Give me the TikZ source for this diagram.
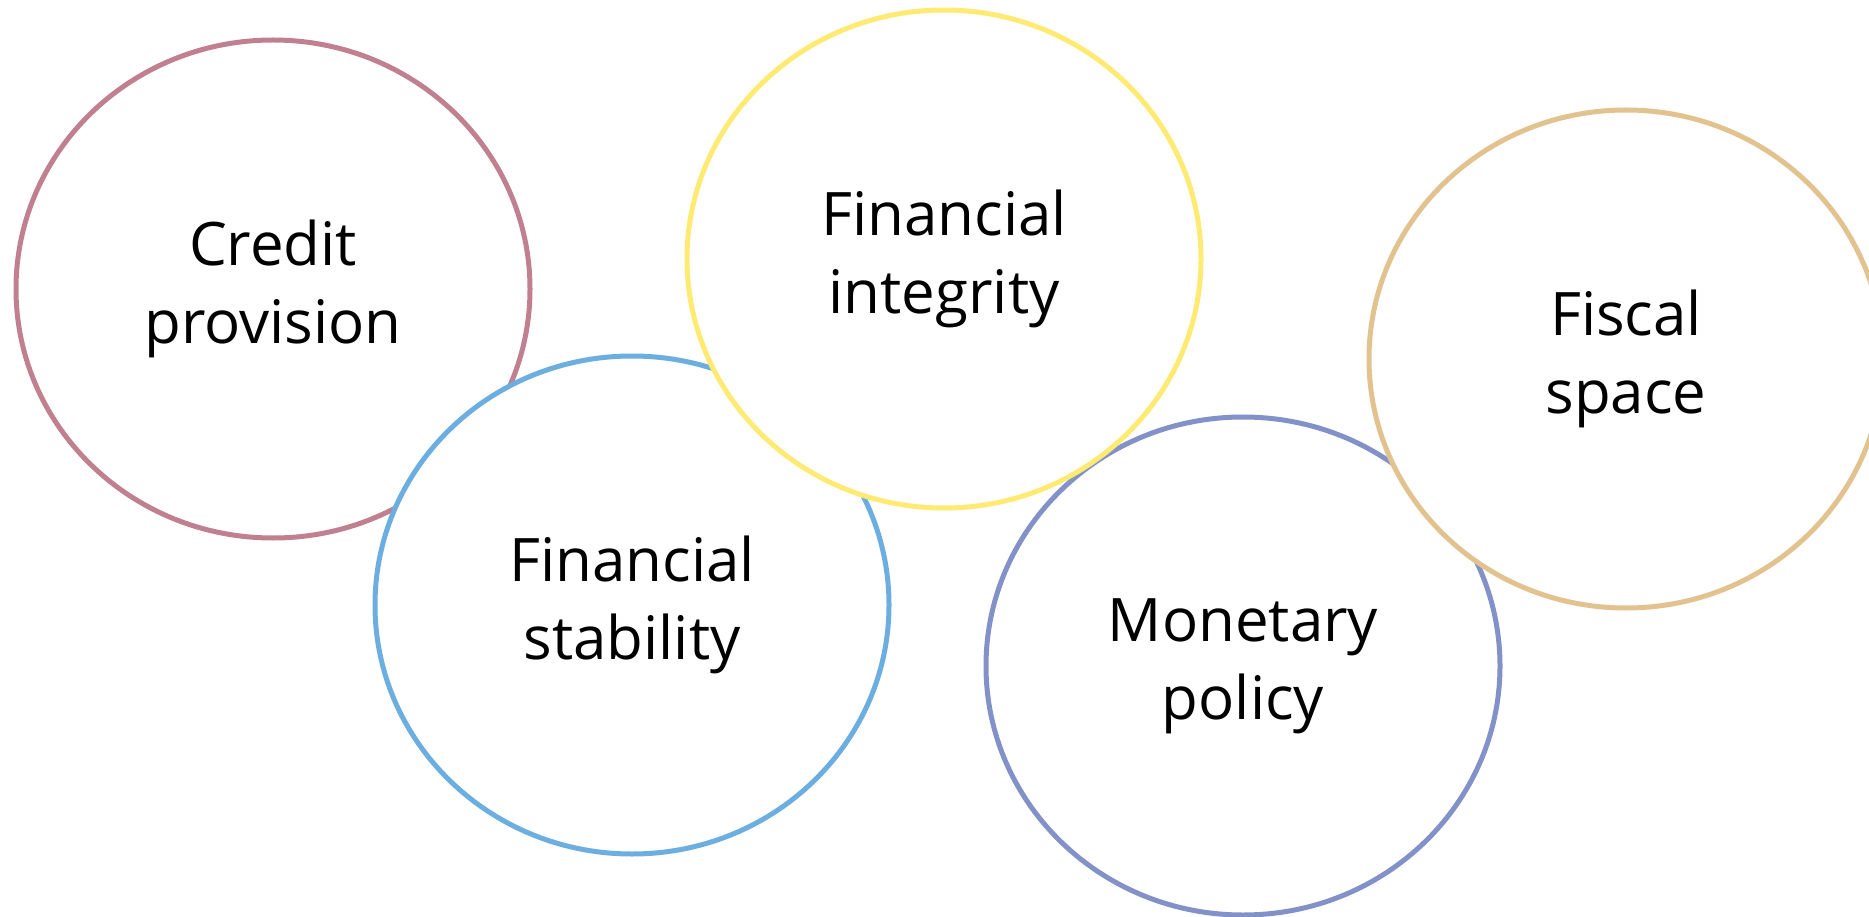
\documentclass[tikz,border=0pt]{standalone}
\usepackage{fontspec}
\setmainfont{Open Sans}
\usetikzlibrary{shapes.geometric}
\definecolor{cpink}{RGB}{193,128,144}
\definecolor{cblue}{RGB}{108,174,224}
\definecolor{cyellow}{RGB}{255,234,115}
\definecolor{cpurple}{RGB}{130,146,200}
\definecolor{ctan}{RGB}{226,194,143}
\tikzset{
  bubble/.style={ellipse, draw=#1, fill=white, line width=5pt,
    minimum width=514pt, minimum height=498pt, inner sep=0pt,
    align=center, font=\fontsize{60}{78}\selectfont, text=black}
}
\begin{document}
\begin{tikzpicture}[x=1pt,y=-1pt]
\path[use as bounding box, clip] (0,0) rectangle (1869,917);
\node[bubble=cpink] (credit) at (273,289) {Credit\\provision};
\node[bubble=cblue] (stab) at (632,605) {Financial\\stability};
\node[bubble=cpurple] (mon) at (1243,666) {Monetary\\policy};
\node[bubble=cyellow] (integ) at (944,259) {Financial\\integrity};
\node[bubble=ctan] (fisc) at (1626,359) {Fiscal\\space};
\end{tikzpicture}
\end{document}
